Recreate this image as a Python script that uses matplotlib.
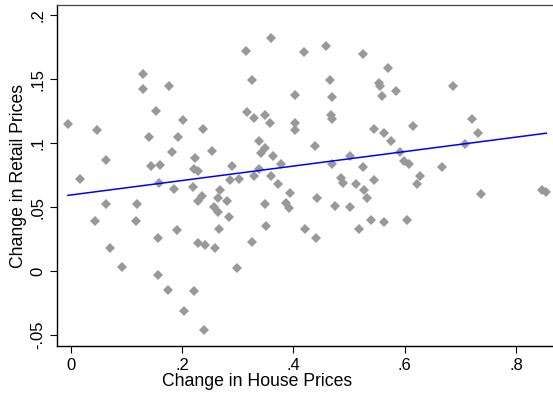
import numpy as np
import matplotlib
matplotlib.use("Agg")
import matplotlib.pyplot as plt

plt.rcParams["font.family"] = ["Liberation Sans", "DejaVu Sans"]

# change in house prices (x) and change in retail prices (y)
house = [
    -0.005, 0.047, 0.017, 0.063, 0.063, 0.043, 0.071, 0.092, 0.119, 0.118,
    0.130, 0.129, 0.141, 0.144, 0.153, 0.159, 0.157, 0.156, 0.160, 0.176,
    0.175, 0.181, 0.186, 0.190, 0.192, 0.202, 0.203, 0.219, 0.221, 0.224,
    0.222, 0.228, 0.229, 0.235, 0.229, 0.238, 0.239, 0.241, 0.254, 0.258,
    0.259, 0.265, 0.265, 0.267, 0.268, 0.280, 0.284, 0.289, 0.286, 0.298,
    0.302, 0.314, 0.316, 0.326, 0.329, 0.330, 0.325, 0.338, 0.338, 0.348,
    0.348, 0.342, 0.349, 0.351, 0.357, 0.360, 0.360, 0.363, 0.372, 0.378,
    0.387, 0.392, 0.393, 0.402, 0.403, 0.403, 0.419, 0.421, 0.439, 0.441,
    0.443, 0.458, 0.465, 0.469, 0.467, 0.469, 0.469, 0.475, 0.486, 0.489,
    0.501, 0.502, 0.513, 0.518, 0.524, 0.525, 0.527, 0.532, 0.540, 0.544,
    0.545, 0.553, 0.555, 0.559, 0.563, 0.563, 0.570, 0.575, 0.584, 0.592,
    0.598, 0.607, 0.604, 0.615, 0.622, 0.628, 0.666, 0.686, 0.708, 0.721,
    0.732, 0.737, 0.847, 0.854,
]
retail = [
    0.115, 0.110, 0.072, 0.087, 0.052, 0.039, 0.018, 0.0034, 0.052, 0.039,
    0.154, 0.142, 0.105, 0.082, 0.125, 0.069, 0.026, -0.003, 0.083, 0.145,
    -0.015, 0.093, 0.064, 0.032, 0.105, 0.118, -0.031, 0.066, -0.016, 0.088,
    0.080, 0.078, 0.022, 0.059, 0.055, 0.111, -0.046, 0.020, 0.094, 0.050,
    0.018, 0.057, 0.046, 0.033, 0.063, 0.055, 0.042, 0.082, 0.071, 0.0023,
    0.072, 0.172, 0.124, 0.149, 0.120, 0.074, 0.023, 0.080, 0.102, 0.122,
    0.096, 0.092, 0.052, 0.035, 0.116, 0.182, 0.074, 0.090, 0.068, 0.084,
    0.053, 0.049, 0.061, 0.116, 0.110, 0.138, 0.171, 0.033, 0.098, 0.026,
    0.057, 0.176, 0.149, 0.136, 0.122, 0.119, 0.084, 0.051, 0.073, 0.069,
    0.090, 0.050, 0.068, 0.033, 0.170, 0.081, 0.063, 0.057, 0.040, 0.071,
    0.111, 0.147, 0.145, 0.137, 0.108, 0.038, 0.159, 0.102, 0.141, 0.093,
    0.086, 0.084, 0.040, 0.113, 0.068, 0.074, 0.081, 0.145, 0.099, 0.119,
    0.108, 0.060, 0.063, 0.062,
]

# fitted line
fit_intercept = 0.0594
fit_slope = 0.0566

x_ticks = [0, 0.2, 0.4, 0.6, 0.8]
x_labels = ["0", ".2", ".4", ".6", ".8"]
y_ticks = [-0.05, 0, 0.05, 0.1, 0.15, 0.2]
y_labels = ["-.05", "0", ".05", ".1", ".15", ".2"]


def main():
    fig = plt.figure(figsize=(5.53, 3.98), dpi=100)
    ax = fig.add_axes([57 / 553, 52 / 398, 496 / 553, 341 / 398])

    ax.plot(house, retail, linestyle="none", marker="D", markersize=5.6,
            color="#999999", markeredgewidth=0)

    xs = np.array([min(house), max(house)])
    ax.plot(xs, fit_intercept + fit_slope * xs, color="#0000ff", linewidth=1.1)

    ax.set_xlim(-0.0246, 0.866)
    ax.set_ylim(-0.0587, 0.208)

    ax.set_xticks(x_ticks)
    ax.set_xticklabels(x_labels)
    ax.set_yticks(y_ticks)
    ax.set_yticklabels(y_labels)
    ax.tick_params(direction="out", length=5, width=0.8, pad=3.5,
                   labelsize=12, colors="black")
    plt.setp(ax.get_yticklabels(), rotation=90, va="center")

    ax.spines["right"].set_visible(False)
    ax.spines["top"].set_color("#444444")
    ax.spines["top"].set_linewidth(0.9)
    for side in ("left", "bottom"):
        ax.spines[side].set_linewidth(1.0)
        ax.spines[side].set_color("black")

    ax.set_xlabel("Change in House Prices", fontsize=12.7)
    ax.set_ylabel("Change in Retail Prices", fontsize=12.7)
    ax.xaxis.set_label_coords(0.403, -0.079)
    ax.yaxis.set_label_coords(-0.061, 0.5)

    fig.savefig("out.png", dpi=100)


if __name__ == "__main__":
    main()
